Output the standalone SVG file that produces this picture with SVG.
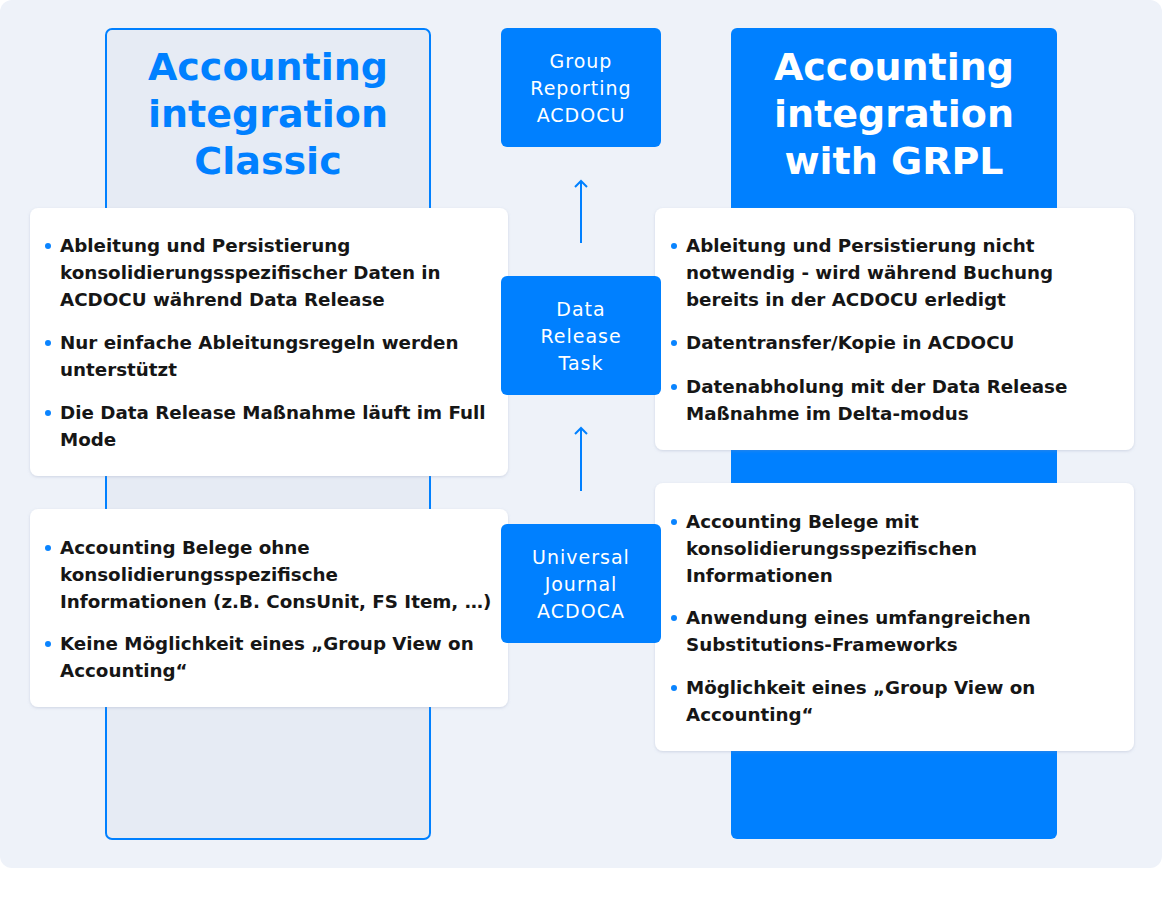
<svg xmlns="http://www.w3.org/2000/svg" width="1162" height="908" viewBox="0 0 1162 908">
<style>
.title{font-family:"DejaVu Sans","Noto Sans",sans-serif;font-weight:600;font-size:38px;text-anchor:middle}
.box{fill:#0080ff}
.boxt{font-family:"DejaVu Sans","Noto Sans",sans-serif;font-weight:500;font-size:19px;letter-spacing:1px;fill:#ffffff;text-anchor:middle}
.card{fill:#ffffff;filter:url(#sh)}
.t{font-family:"DejaVu Sans","Noto Sans",sans-serif;font-weight:600;font-size:18.3px;fill:#161616}
.dot{fill:#0a84ff}
.arr{stroke:#0080ff;stroke-width:2;fill:none}
</style>
<defs>
<filter id="sh" x="-5%" y="-5%" width="110%" height="115%">
<feDropShadow dx="0" dy="1" stdDeviation="1.5" flood-color="#8090b0" flood-opacity="0.3"/>
</filter>
<marker id="ah" markerWidth="16" markerHeight="16" refX="9" refY="8" orient="auto" markerUnits="userSpaceOnUse">
<path d="M3,2 L9,8 L3,14" fill="none" stroke="#0080ff" stroke-width="2"/>
</marker>
</defs>
<rect x="0" y="0" width="1162" height="868" rx="12" fill="#eef2f9"/>
<g id="col-classic">
<rect x="106" y="29" width="324" height="810" rx="6" fill="#e6ebf4" stroke="#0080ff" stroke-width="2"/>
<text class="title" fill="#0080ff"><tspan x="268" y="80">Accounting</tspan><tspan x="268" y="127">integration</tspan><tspan x="268" y="174">Classic</tspan></text>
</g>
<g id="col-grpl">
<rect x="731" y="28" width="326" height="811" rx="6" fill="#0080ff"/>
<text class="title" fill="#ffffff"><tspan x="894" y="80">Accounting</tspan><tspan x="894" y="127">integration</tspan><tspan x="894" y="174">with GRPL</tspan></text>
</g>
<g id="connectors">
<line class="arr" x1="581" y1="243" x2="581" y2="181" marker-end="url(#ah)"/>
<line class="arr" x1="581" y1="491" x2="581" y2="428" marker-end="url(#ah)"/>
</g>
<g id="card-classic-1">
<rect class="card" x="30" y="208" width="478" height="268" rx="8"/>
<circle class="dot" cx="48" cy="246" r="3"/>
<circle class="dot" cx="48" cy="343" r="3"/>
<circle class="dot" cx="48" cy="413" r="3"/>
<text class="t"><tspan x="60" y="252">Ableitung und Persistierung</tspan><tspan x="60" y="279">konsolidierungsspezifischer Daten in</tspan><tspan x="60" y="306">ACDOCU während Data Release</tspan><tspan x="60" y="349">Nur einfache Ableitungsregeln werden</tspan><tspan x="60" y="376">unterstützt</tspan><tspan x="60" y="419">Die Data Release Maßnahme läuft im Full</tspan><tspan x="60" y="446">Mode</tspan></text>
</g>
<g id="card-classic-2">
<rect class="card" x="30" y="509" width="478" height="198" rx="8"/>
<circle class="dot" cx="48" cy="548" r="3"/>
<circle class="dot" cx="48" cy="644" r="3"/>
<text class="t"><tspan x="60" y="554">Accounting Belege ohne</tspan><tspan x="60" y="581">konsolidierungsspezifische</tspan><tspan x="60" y="608">Informationen (z.B. ConsUnit, FS Item, …)</tspan><tspan x="60" y="650">Keine Möglichkeit eines „Group View on</tspan><tspan x="60" y="677">Accounting“</tspan></text>
</g>
<g id="card-grpl-1">
<rect class="card" x="655" y="208" width="479" height="242" rx="8"/>
<circle class="dot" cx="674" cy="246" r="3"/>
<circle class="dot" cx="674" cy="343" r="3"/>
<circle class="dot" cx="674" cy="387" r="3"/>
<text class="t"><tspan x="686" y="252">Ableitung und Persistierung nicht</tspan><tspan x="686" y="279">notwendig - wird während Buchung</tspan><tspan x="686" y="306">bereits in der ACDOCU erledigt</tspan><tspan x="686" y="349">Datentransfer/Kopie in ACDOCU</tspan><tspan x="686" y="393">Datenabholung mit der Data Release</tspan><tspan x="686" y="420">Maßnahme im Delta-modus</tspan></text>
</g>
<g id="card-grpl-2">
<rect class="card" x="655" y="483" width="479" height="268" rx="8"/>
<circle class="dot" cx="674" cy="522" r="3"/>
<circle class="dot" cx="674" cy="618" r="3"/>
<circle class="dot" cx="674" cy="688" r="3"/>
<text class="t"><tspan x="686" y="528">Accounting Belege mit</tspan><tspan x="686" y="555">konsolidierungsspezifischen</tspan><tspan x="686" y="582">Informationen</tspan><tspan x="686" y="624">Anwendung eines umfangreichen</tspan><tspan x="686" y="651">Substitutions-Frameworks</tspan><tspan x="686" y="694">Möglichkeit eines „Group View on</tspan><tspan x="686" y="721">Accounting“</tspan></text>
</g>
<g id="node-group-reporting">
<rect class="box" x="501" y="28" width="160" height="119" rx="6"/>
<text class="boxt"><tspan x="581" y="68">Group</tspan><tspan x="581" y="95">Reporting</tspan><tspan x="581" y="122">ACDOCU</tspan></text>
</g>
<g id="node-data-release">
<rect class="box" x="501" y="276" width="160" height="119" rx="6"/>
<text class="boxt"><tspan x="581" y="316">Data</tspan><tspan x="581" y="343">Release</tspan><tspan x="581" y="370">Task</tspan></text>
</g>
<g id="node-universal-journal">
<rect class="box" x="501" y="524" width="160" height="119" rx="6"/>
<text class="boxt"><tspan x="581" y="564">Universal</tspan><tspan x="581" y="591">Journal</tspan><tspan x="581" y="618">ACDOCA</tspan></text>
</g>
</svg>
